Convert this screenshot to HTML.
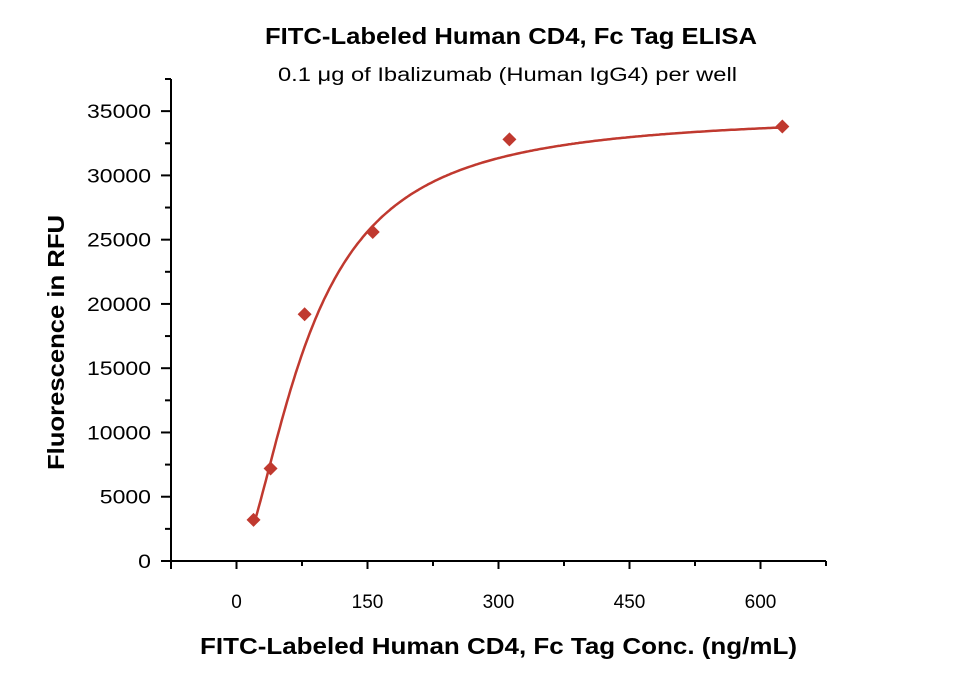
<!DOCTYPE html>
<html><head><meta charset="utf-8"><style>
body{margin:0;background:#fff;}
svg text{font-family:"Liberation Sans",sans-serif;fill:#000;}
</style></head><body>
<svg id="chart" width="960" height="674" viewBox="0 0 960 674">
<text x="265" y="44" textLength="492" lengthAdjust="spacingAndGlyphs" font-size="23" font-weight="bold">FITC-Labeled Human CD4, Fc Tag ELISA</text>
<text x="278" y="81" textLength="459" lengthAdjust="spacingAndGlyphs" font-size="19">0.1 μg of Ibalizumab (Human IgG4) per well</text>
<text x="200" y="654" textLength="597" lengthAdjust="spacingAndGlyphs" font-size="23" font-weight="bold">FITC-Labeled Human CD4, Fc Tag Conc. (ng/mL)</text>
<text transform="translate(64,470) rotate(-90)" textLength="255" lengthAdjust="spacingAndGlyphs" font-size="23" font-weight="bold">Fluorescence in RFU</text>
<g id="axes"></g>
<g id="marks"></g>
</svg>
<script>
const xTicks=[0,150,300,450,600];
const yTicks=[0,5000,10000,15000,20000,25000,30000,35000];
const conc=[19.5,39,78,156,312.5,625];
const rfu=[3200,7200,19200,25600,32800,33800];
const fitBottom=[0];const fitTop=[34800];const fitEC50=[82];const fitHill=[1.7];
const X0=171,X1=826,Y0=561,Y1=79,XMIN=-75,XMAX=675,YMIN=0,YMAX=37500;
const sx=v=>X0+(v-XMIN)/(XMAX-XMIN)*(X1-X0);
const sy=v=>Y0-(v-YMIN)/(YMAX-YMIN)*(Y0-Y1);
const NS='http://www.w3.org/2000/svg';
function mk(t,a,p){const e=document.createElementNS(NS,t);for(const k in a)e.setAttribute(k,a[k]);p.appendChild(e);return e;}
const ax=document.getElementById('axes'),mg=document.getElementById('marks');
let e;
e=mk('line',{x1:X0,y1:Y0,x2:X1,y2:Y0,stroke:'#000','stroke-width':2},ax);


e=mk('line',{x1:X0,y1:Y0+1,x2:X0,y2:Y1,stroke:'#000','stroke-width':2},ax);


for(let v=XMIN;v<=XMAX;v+=75){const maj=xTicks.includes(v)||v===XMIN;mk('line',{x1:sx(v),y1:Y0,x2:sx(v),y2:Y0+(maj?8:5),stroke:'#000','stroke-width':2},ax);}
xTicks.forEach(v=>{e=mk('text',{x:sx(v),y:Y0+47,'text-anchor':'middle','font-size':19},ax);e.textContent=v;

});
for(let v=0;v<=YMAX;v+=2500){const maj=v%5000===0;mk('line',{x1:X0,y1:sy(v),x2:X0-(maj?10:6),y2:sy(v),stroke:'#000','stroke-width':2},ax);}
yTicks.forEach(v=>{e=mk('text',{x:X0-20,y:sy(v)+7,'text-anchor':'end','font-size':19,textLength:String(v).length*12.8,lengthAdjust:'spacingAndGlyphs'},ax);e.textContent=v;

});
const f=x=>fitBottom[0]+(fitTop[0]-fitBottom[0])/(1+Math.pow(fitEC50[0]/x,fitHill[0]));
let d='';const xs=conc[0],xe=conc[conc.length-1];
for(let i=0;i<=300;i++){const x=xs+(xe-xs)*i/300;d+=(i?'L':'M')+sx(x).toFixed(1)+','+sy(f(x)).toFixed(1);}
e=mk('path',{d:d,fill:'none',stroke:'#c0392f','stroke-width':2.5},mg);


conc.forEach((c,i)=>{const x=sx(c),y=sy(rfu[i]);
e=mk('path',{d:`M${x},${y-7}L${x+7},${y}L${x},${y+7}L${x-7},${y}Z`,fill:'#c0392f'},mg);

});
</script>
</body></html>
